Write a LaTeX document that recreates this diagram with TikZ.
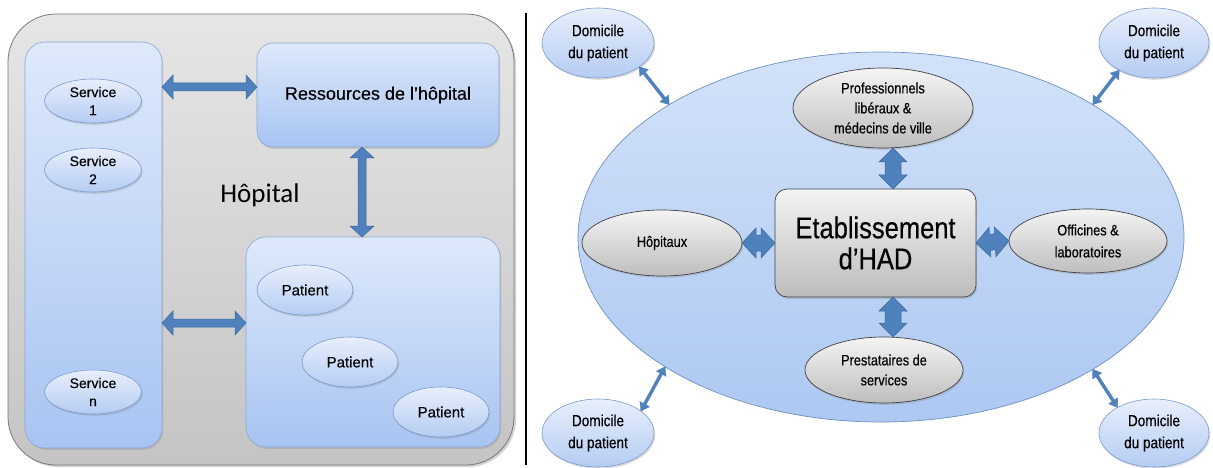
\documentclass[tikz,border=0pt]{standalone}
\usepackage{fontspec}
\setmainfont[FakeBold=0.25]{Liberation Sans}
\newfontfamily\narrowsans[FakeStretch=0.85,FakeBold=0.45]{Liberation Sans}
\newfontfamily\calibrisans{Carlito}
\usetikzlibrary{shapes.geometric,calc,shadows}

\definecolor{panelTop}{HTML}{E6E6E6}
\definecolor{panelBot}{HTML}{C4C4C4}
\definecolor{panelEdge}{HTML}{787878}
\definecolor{boxTop}{HTML}{DEE9FB}
\definecolor{boxBot}{HTML}{A8C4F2}
\definecolor{boxEdge}{HTML}{8AA7D6}
\definecolor{ellTop}{HTML}{E8EFFC}
\definecolor{ellBot}{HTML}{B5CCF3}
\definecolor{ellEdge}{HTML}{7C9BCB}
\definecolor{bigTop}{HTML}{D2E2F9}
\definecolor{bigBot}{HTML}{ADC8F2}
\definecolor{bigEdge}{HTML}{6F90C3}
\definecolor{grayTop}{HTML}{F4F4F4}
\definecolor{grayBot}{HTML}{BEBEBE}
\definecolor{grayEdge}{HTML}{404040}
\definecolor{arrowFill}{HTML}{4F81BD}
\definecolor{arrowEdge}{HTML}{3A689F}

% double-headed block arrow between two points:
% [style]{from}{to}{half shaft}{half head}{head length}
\newcommand{\blockarrow}[6][]{%
  \path (#2) coordinate (ba-a) (#3) coordinate (ba-b);
  \coordinate (ba-a1) at ($(ba-a)!#6!(ba-b)$);
  \coordinate (ba-b1) at ($(ba-b)!#6!(ba-a)$);
  \draw[#1] (ba-a)
    -- ($(ba-a1)!#5!90:(ba-b)$) -- ($(ba-a1)!#4!90:(ba-b)$)
    -- ($(ba-b1)!#4!-90:(ba-a)$) -- ($(ba-b1)!#5!-90:(ba-a)$)
    -- (ba-b)
    -- ($(ba-b1)!#5!90:(ba-a)$) -- ($(ba-b1)!#4!90:(ba-a)$)
    -- ($(ba-a1)!#4!-90:(ba-b)$) -- ($(ba-a1)!#5!-90:(ba-b)$)
    -- cycle;
}

\begin{document}
\begin{tikzpicture}[x=1pt,y=-1pt,
  every node/.style={inner sep=0pt, outer sep=0pt},
  softshadow/.style={drop shadow={opacity=0.28, shadow xshift=1.2pt, shadow yshift=-1.8pt}},
  panel/.style={rectangle, rounded corners=48pt, top color=panelTop, bottom color=panelBot,
    draw=panelEdge, line width=0.8pt, drop shadow={opacity=0.35, shadow xshift=2pt, shadow yshift=-2pt}},
  bluebox/.style={rectangle, top color=boxTop, bottom color=boxBot, draw=boxEdge,
    line width=0.6pt, softshadow},
  blueell/.style={ellipse, top color=ellTop, bottom color=ellBot, draw=ellEdge,
    line width=0.6pt, align=center, softshadow},
  grayell/.style={ellipse, top color=grayTop, bottom color=grayBot, draw=grayEdge,
    line width=0.7pt, align=center, softshadow},
  flowarrow/.style={fill=arrowFill, draw=arrowEdge, line width=0.5pt},
  linkarrow/.style={fill=arrowFill, draw=arrowFill, line width=0.3pt},
  svcfont/.style={font=\fontsize{14pt}{18pt}\selectfont},
  patfont/.style={font=\fontsize{15pt}{18pt}\selectfont},
  domfont/.style={font=\narrowsans\fontsize{16pt}{22pt}\selectfont},
  midfont/.style={font=\narrowsans\fontsize{15pt}{20pt}\selectfont},
]
\useasboundingbox (0,0) rectangle (1213,468);
\fill[white] (0,0) rectangle (1213,468);

% ---------- hospital ----------
\node[panel, minimum width=506pt, minimum height=451pt] (hosp) at (261,239.5) {};
\node[bluebox, rounded corners=20pt, minimum width=137pt, minimum height=406pt] (col) at (93.5,245) {};
\node[bluebox, rounded corners=16pt, minimum width=242pt, minimum height=104pt,
      font=\fontsize{18pt}{20pt}\selectfont] (res) at (378,95) {Ressources de l’hôpital};
\node[bluebox, rounded corners=20pt, minimum width=254pt, minimum height=210pt] (pat) at (373,342) {};

\node[blueell, svcfont, minimum width=97pt, minimum height=44pt] (s1) at (93,101) {Service\\1};
\node[blueell, svcfont, minimum width=97pt, minimum height=44pt] (s2) at (93,170) {Service\\2};
\node[blueell, svcfont, minimum width=97pt, minimum height=44pt] (sn) at (93,392) {Service\\n};

\node[blueell, patfont, minimum width=96pt, minimum height=50pt] (p1) at (305,290) {Patient};
\node[blueell, patfont, minimum width=96pt, minimum height=50pt] (p2) at (350,362) {Patient};
\node[blueell, patfont, minimum width=96pt, minimum height=50pt] (p3) at (441,412) {Patient};

\node[font=\calibrisans\fontsize{27pt}{30pt}\selectfont] (hlabel) at (260,195) {Hôpital};

\blockarrow[flowarrow]{$(col.east |- res.west)+(0,-8)$}{$(res.west)+(0,-8)$}{4pt}{12pt}{11pt}
\blockarrow[flowarrow]{$(col.east |- pat.west)+(0,-19)$}{$(pat.west)+(0,-19)$}{4pt}{12pt}{11pt}
\blockarrow[flowarrow]{$(res.south)+(-16,0)$}{$(pat.north)+(-11,0)$}{4pt}{12pt}{11pt}

% ---------- divider ----------
\coordinate (divtop) at (526,13);
\coordinate (divbot) at (526,465);
\draw[black, line width=1.4pt] (divtop) -- (divbot);

% ---------- home hospitalisation network ----------
\node[ellipse, top color=bigTop, bottom color=bigBot, draw=bigEdge, line width=0.7pt,
      minimum width=606pt, minimum height=370pt] (net) at (881,237) {};

\node[grayell, midfont, minimum width=180pt, minimum height=80pt] (prof) at (883,108)
  {Professionnels\\libéraux \&\\médecins de ville};
\node[grayell, font=\narrowsans\fontsize{15pt}{20pt}\selectfont, minimum width=160pt, minimum height=66pt] (hop) at (662,243) {Hôpitaux};
\node[grayell, font=\narrowsans\fontsize{15pt}{22pt}\selectfont, minimum width=158pt, minimum height=64pt] (off) at (1088,241)
  {Officines \&\\laboratoires};
\node[grayell, midfont, minimum width=158pt, minimum height=66pt] (prest) at (884,370)
  {Prestataires de\\services};
\node[rectangle, rounded corners=12pt, top color=grayTop, bottom color=grayBot!90!black!80, draw=grayEdge,
      line width=0.7pt, softshadow, align=center, minimum width=201pt, minimum height=108pt,
      font=\narrowsans\fontsize{30pt}{31pt}\selectfont] (had) at (875.5,243) {Etablissement\\d’HAD};

\node[blueell, domfont, minimum width=112pt, minimum height=70pt] (dtl) at (598,43) {Domicile\\du patient};
\node[blueell, domfont, minimum width=110pt, minimum height=70pt] (dtr) at (1154,43) {Domicile\\du patient};
\node[blueell, domfont, minimum width=112pt, minimum height=68pt] (dbl) at (598,433) {Domicile\\du patient};
\node[blueell, domfont, minimum width=110pt, minimum height=68pt] (dbr) at (1154,433) {Domicile\\du patient};

\coordinate (vaxis) at (893,0);
\blockarrow[flowarrow]{prof.south -| vaxis}{had.north -| vaxis}{8pt}{14pt}{14pt}
\blockarrow[flowarrow]{had.south -| vaxis}{prest.north -| vaxis}{8pt}{14pt}{14pt}
\blockarrow[flowarrow]{hop.east}{had.west}{8pt}{15pt}{14pt}
\blockarrow[flowarrow]{had.east}{off.west}{8pt}{15pt}{14pt}

\blockarrow[linkarrow]{dtl.-30}{net.148}{1.5pt}{5.5pt}{8pt}
\blockarrow[linkarrow]{dtr.218}{net.32}{1.5pt}{5.5pt}{8pt}
\blockarrow[linkarrow]{dbl.27}{net.211}{1.5pt}{5.5pt}{8pt}
\blockarrow[linkarrow]{dbr.145}{net.328}{1.5pt}{5.5pt}{8pt}
\end{tikzpicture}
\end{document}
